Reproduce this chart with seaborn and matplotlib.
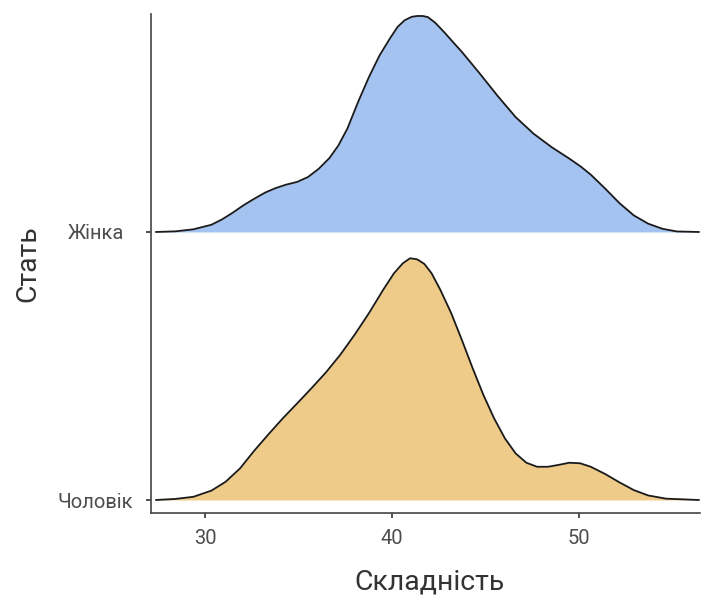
import numpy as np
import pandas as pd
import matplotlib
matplotlib.use("Agg")
import matplotlib.pyplot as plt
import seaborn as sns

# ---- data (density ridges) ----
groups = ["Чоловік", "Жінка"]
colors = {"Чоловік": "#EFCB8A", "Жінка": "#A4C3F0"}

x_female = [27.36, 28.41, 29.37, 30.33, 30.90, 31.47, 32.05, 32.62, 33.20, 33.77,
            34.34, 34.92, 35.49, 36.07, 36.64, 37.12, 37.60, 38.17, 38.75, 39.32,
            39.89, 40.28, 40.66, 41.04, 41.33, 41.62, 41.90, 42.29, 42.77, 43.24,
            43.72, 44.68, 45.64, 46.59, 47.55, 48.51, 49.46, 50.04, 50.61, 51.38,
            52.14, 52.91, 53.68, 54.44, 55.21, 56.40]
h_female = [0.000, 0.0025, 0.010, 0.027, 0.047, 0.072, 0.100, 0.124, 0.147, 0.164,
            0.177, 0.187, 0.205, 0.236, 0.276, 0.323, 0.386, 0.485, 0.578, 0.659,
            0.724, 0.765, 0.790, 0.803, 0.806, 0.806, 0.802, 0.781, 0.746, 0.709,
            0.672, 0.591, 0.507, 0.429, 0.367, 0.317, 0.274, 0.246, 0.214, 0.162,
            0.108, 0.062, 0.031, 0.012, 0.002, 0.000]

x_male = [27.36, 28.41, 29.37, 30.33, 31.09, 31.86, 32.62, 33.39, 34.15, 34.92,
          35.68, 36.45, 37.22, 37.98, 38.75, 39.51, 40.09, 40.56, 40.95, 41.33,
          41.71, 42.10, 42.57, 43.15, 43.72, 44.30, 44.87, 45.44, 46.02, 46.59,
          47.17, 47.74, 48.32, 48.89, 49.46, 50.04, 50.61, 51.38, 52.14, 52.91,
          53.68, 54.63, 56.40]
h_male = [0.000, 0.004, 0.012, 0.035, 0.068, 0.118, 0.184, 0.246, 0.305, 0.361,
          0.417, 0.476, 0.542, 0.616, 0.697, 0.784, 0.846, 0.883, 0.902, 0.898,
          0.881, 0.846, 0.784, 0.697, 0.597, 0.491, 0.392, 0.305, 0.230, 0.174,
          0.139, 0.124, 0.124, 0.131, 0.139, 0.137, 0.124, 0.097, 0.066, 0.037,
          0.017, 0.005, 0.000]

x_ticks = [30, 40, 50]

curves = {"Чоловік": (x_male, h_male), "Жінка": (x_female, h_female)}

rows = []
for i, g in enumerate(groups):
    xs, hs = curves[g]
    for xv, hv in zip(xs, hs):
        rows.append({"Складність": xv, "y": i + hv, "base": i, "Стать": g})
df = pd.DataFrame(rows)

sns.set_theme(style="ticks")
plt.rcParams["font.family"] = ["Roboto", "DejaVu Sans"]

fig = plt.figure(figsize=(7.01, 5.97), dpi=100)
ax = fig.add_axes([151 / 701, 84 / 597, 549 / 701, 499 / 597])

for g in ["Жінка", "Чоловік"]:
    sub = df[df["Стать"] == g]
    ax.fill_between(sub["Складність"], sub["base"], sub["y"],
                    color=colors[g], linewidth=0, zorder=2)
sns.lineplot(data=df, x="Складність", y="y", units="Стать", estimator=None,
             sort=False, color="#1a1a1a", linewidth=1.3, ax=ax, zorder=3,
             solid_joinstyle="round", solid_capstyle="round")

ax.set_xlim(27.1, 56.45)
ax.set_ylim(-0.0485, 1.8134)
ax.set_xticks(x_ticks)
ax.set_xticklabels([str(t) for t in x_ticks])
ax.set_yticks(range(len(groups)))
ax.set_yticklabels(groups)

for s in ["top", "right"]:
    ax.spines[s].set_visible(False)
for s in ["left", "bottom"]:
    ax.spines[s].set_color("#444444")
    ax.spines[s].set_linewidth(1.2)
ax.tick_params(axis="both", colors="#333333", length=3.8, width=1.2,
               labelsize=14.5, labelcolor="#4D4D4D")
ax.tick_params(axis="x", pad=8)
ax.tick_params(axis="y", pad=36)
for lab in ax.get_yticklabels():
    lab.set_horizontalalignment("center")

ax.set_xlabel("Складність", fontsize=20.5, color="#333333")
ax.set_ylabel("Стать", fontsize=20.5, color="#333333")
ax.xaxis.set_label_coords(0.508, -0.138)
ax.xaxis.label.set_va("center")
ax.yaxis.set_label_coords(-0.224, 0.5)
ax.yaxis.label.set_va("center")

fig.savefig("out.png", dpi=100)
